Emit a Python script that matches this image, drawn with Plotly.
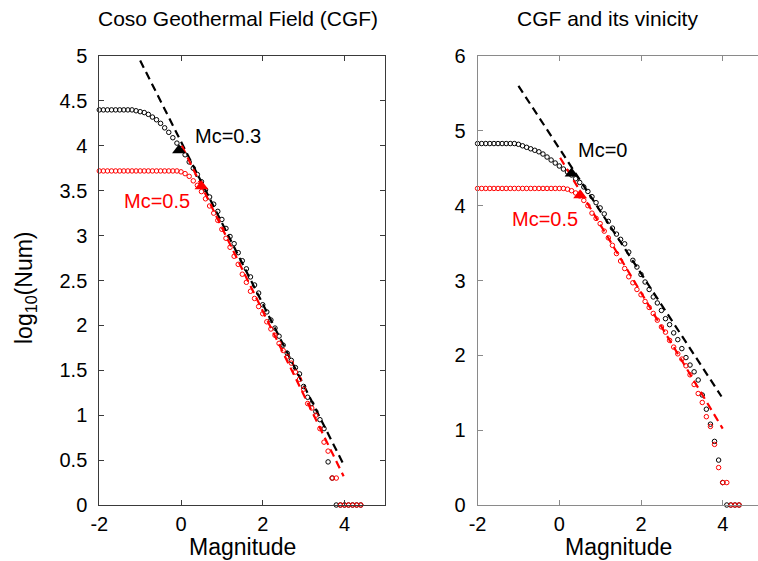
import plotly.graph_objects as go

# ---------------- data ----------------
mags = [-2.0, -1.9, -1.8, -1.7, -1.6, -1.5, -1.4, -1.3, -1.2, -1.1,
        -1.0, -0.9, -0.8, -0.7, -0.6, -0.5, -0.4, -0.3, -0.2, -0.1,
        0.0, 0.1, 0.2, 0.3, 0.4, 0.5, 0.6, 0.7, 0.8, 0.9,
        1.0, 1.1, 1.2, 1.3, 1.4, 1.5, 1.6, 1.7, 1.8, 1.9,
        2.0, 2.1, 2.2, 2.3, 2.4, 2.5, 2.6, 2.7, 2.8, 2.9,
        3.0, 3.1, 3.2, 3.3, 3.4, 3.5, 3.6, 3.7, 3.8, 3.9,
        4.0, 4.1, 4.2, 4.3, 4.4]

cgf_black = [4.40, 4.40, 4.40, 4.40, 4.40, 4.40, 4.40, 4.40, 4.40, 4.39,
             4.38, 4.37, 4.35, 4.32, 4.29, 4.25, 4.20, 4.15, 4.09, 4.03,
             3.97, 3.90, 3.82, 3.75, 3.68, 3.60, 3.51, 3.43, 3.35, 3.27,
             3.18, 3.08, 2.99, 2.91, 2.81, 2.72, 2.63, 2.54, 2.45, 2.36,
             2.23, 2.15, 2.06, 1.97, 1.88, 1.78, 1.69, 1.61, 1.53, 1.46,
             1.32, 1.20, 1.13, 1.04, 0.95, 0.85, 0.48, 0.30, 0.0, 0.0,
             0.0, 0.0, 0.0, 0.0, 0.0]

cgf_red = [3.72, 3.72, 3.72, 3.72, 3.72, 3.72, 3.72, 3.72, 3.72, 3.72,
           3.72, 3.72, 3.72, 3.72, 3.72, 3.72, 3.72, 3.72, 3.72, 3.72,
           3.71, 3.69, 3.66, 3.61, 3.56, 3.49, 3.41, 3.33, 3.25, 3.17,
           3.07, 2.97, 2.87, 2.77, 2.68, 2.57, 2.48, 2.38, 2.30, 2.21,
           2.13, 2.04, 1.96, 1.89, 1.80, 1.72, 1.65, 1.58, 1.48, 1.40,
           1.29, 1.13, 1.08, 1.00, 0.85, 0.70, 0.60, 0.30, 0.30, 0.0,
           0.0, 0.0, 0.0, 0.0, 0.0]

vic_black = [4.83, 4.83, 4.83, 4.83, 4.83, 4.83, 4.83, 4.83, 4.83, 4.83,
             4.82, 4.80, 4.78, 4.76, 4.74, 4.72, 4.69, 4.65, 4.61, 4.57,
             4.53, 4.49, 4.45, 4.41, 4.36, 4.31, 4.25, 4.19, 4.12, 4.04,
             3.97, 3.89, 3.79, 3.70, 3.62, 3.55, 3.49, 3.38, 3.27, 3.18,
             3.08, 2.98, 2.88, 2.78, 2.70, 2.60, 2.49, 2.41, 2.30, 2.21,
             2.09, 1.97, 1.87, 1.78, 1.67, 1.47, 1.28, 1.08, 0.85, 0.60,
             0.30, 0.0, 0.0, 0.0, 0.0]

vic_red = [4.23, 4.23, 4.23, 4.23, 4.23, 4.23, 4.23, 4.23, 4.23, 4.23,
           4.23, 4.23, 4.23, 4.23, 4.23, 4.23, 4.23, 4.23, 4.23, 4.23,
           4.23, 4.23, 4.22, 4.20, 4.17, 4.13, 4.07, 4.00, 3.90, 3.83,
           3.76, 3.66, 3.57, 3.47, 3.36, 3.26, 3.16, 3.05, 2.97, 2.88,
           2.81, 2.72, 2.64, 2.56, 2.47, 2.38, 2.31, 2.20, 2.11, 2.02,
           1.95, 1.86, 1.74, 1.61, 1.49, 1.37, 1.18, 1.05, 0.81, 0.50,
           0.30, 0.30, 0.0, 0.0, 0.0]

# fitted Gutenberg-Richter lines (end points)
fit_cgf_black_m = [-1.0, 3.98]
fit_cgf_black_v = [4.95, 0.45]
fit_cgf_red_m = [0.02, 3.98]
fit_cgf_red_v = [4.00, 0.32]
fit_vic_black_m = [-1.0, 3.97]
fit_vic_black_v = [5.60, 1.45]
fit_vic_red_m = [0.02, 4.00]
fit_vic_red_v = [4.64, 1.02]

# Mc markers
mc_cgf_black = (-0.05, 3.95)
mc_cgf_red = (0.5, 3.55)
mc_vic_black = (0.30, 4.43)
mc_vic_red = (0.51, 4.14)

titles = ["Coso Geothermal Field (CGF)", "CGF and its vinicity"]
mc_labels = ["Mc=0.3", "Mc=0.5", "Mc=0", "Mc=0.5"]
x_ticks = [-2, 0, 2, 4]
x_tick_text = ["-2", "0", "2", "4"]

# ---------------- figure ----------------
W, H = 758, 561
FONT = "Liberation Sans, Arial, Helvetica, sans-serif"
RED = "#ff0000"
fig = go.Figure()

def add_panel(xa, ya, blk, red, fbm, fbv, frm, frv, mcb, mcr):
    fig.add_trace(go.Scatter(x=mags, y=blk, mode="markers", xaxis=xa, yaxis=ya,
                             marker=dict(symbol="circle-open", size=4.5, color="black",
                                         line=dict(width=1)), cliponaxis=False))
    fig.add_trace(go.Scatter(x=fbm, y=fbv, mode="lines", xaxis=xa, yaxis=ya,
                             line=dict(color="black", width=2.2, dash="8px,5px")))
    fig.add_trace(go.Scatter(x=mags, y=red, mode="markers", xaxis=xa, yaxis=ya,
                             marker=dict(symbol="circle-open", size=4.5, color=RED,
                                         line=dict(width=1)), cliponaxis=False))
    fig.add_trace(go.Scatter(x=frm, y=frv, mode="lines", xaxis=xa, yaxis=ya,
                             line=dict(color=RED, width=2.2, dash="8px,5px")))
    fig.add_trace(go.Scatter(x=[mcb[0]], y=[mcb[1]], mode="markers", xaxis=xa, yaxis=ya,
                             marker=dict(symbol="triangle-up", size=12, color="black")))
    fig.add_trace(go.Scatter(x=[mcr[0]], y=[mcr[1]], mode="markers", xaxis=xa, yaxis=ya,
                             marker=dict(symbol="triangle-up", size=12, color=RED)))

add_panel("x", "y", cgf_black, cgf_red, fit_cgf_black_m, fit_cgf_black_v,
          fit_cgf_red_m, fit_cgf_red_v, mc_cgf_black, mc_cgf_red)
add_panel("x2", "y2", vic_black, vic_red, fit_vic_black_m, fit_vic_black_v,
          fit_vic_red_m, fit_vic_red_v, mc_vic_black, mc_vic_red)

# pixel geometry
L1, R1 = 99.3, 385.3
L2 = 477.6
TOP, BOT = 56.0, 505.0
x2_max = -2 + (W - L2) / 40.85

def ax_common(color, standoff):
    return dict(showgrid=False, zeroline=False, ticks="inside", ticklen=5,
                tickcolor=color, linecolor=color, linewidth=1, showline=True,
                automargin=False,
                tickfont=dict(family=FONT, size=20, color="black"),
                ticklabelstandoff=standoff)

lc, rc = "#3a3a3a", "#8a8a8a"
fig.update_layout(
    width=W, height=H, margin=dict(l=0, r=0, t=0, b=0, autoexpand=False),
    paper_bgcolor="white", plot_bgcolor="white", showlegend=False,
    xaxis=dict(domain=[L1 / W, R1 / W], range=[-2, 5], tickvals=x_ticks,
               ticktext=x_tick_text, mirror="ticks", anchor="y", **ax_common(lc, 1)),
    yaxis=dict(domain=[(H - BOT) / H, (H - TOP) / H], range=[0, 5], dtick=0.5,
               tick0=0, mirror="ticks", anchor="x", **ax_common(lc, 7)),
    xaxis2=dict(domain=[L2 / W, 1.0], range=[-2, x2_max], tickvals=x_ticks,
                ticktext=x_tick_text, mirror="ticks", anchor="y2", **ax_common(rc, 1)),
    yaxis2=dict(domain=[(H - BOT) / H, (H - TOP) / H], range=[0, 6], dtick=1,
                tick0=0, mirror=False, anchor="x2", **ax_common(rc, 7)),
)

ann = []
def paper_text(txt, px, py, size, **kw):
    ann.append(dict(text=txt, x=px / W, y=1 - py / H, xref="paper", yref="paper",
                    showarrow=False, font=dict(family=FONT, size=size, color="black"),
                    xanchor="center", yanchor="middle", **kw))

paper_text(titles[0], 238, 18, 21)
paper_text(titles[1], 607, 18, 21)
paper_text("Magnitude", 242, 547, 23)
paper_text("Magnitude", 618, 547, 23)
paper_text("log<sub>10</sub>(Num)", 25, 288, 23, textangle=-90)

def data_text(txt, x, y, xr, yr, color):
    ann.append(dict(text=txt, x=x, y=y, xref=xr, yref=yr, showarrow=False,
                    xanchor="left", yanchor="middle",
                    font=dict(family=FONT, size=20, color=color)))

data_text(mc_labels[0], 0.30, 4.11, "x", "y", "black")
data_text(mc_labels[1], -1.45, 3.39, "x", "y", RED)
data_text(mc_labels[2], 0.40, 4.75, "x2", "y2", "black")
data_text(mc_labels[3], -1.20, 3.82, "x2", "y2", RED)

fig.update_layout(annotations=ann)
fig.write_html(
    "out.html",
    config={"displayModeBar": False},
    post_script="document.body.style.margin='0';document.body.style.padding='0';"
                "document.body.style.overflow='hidden';",
)
